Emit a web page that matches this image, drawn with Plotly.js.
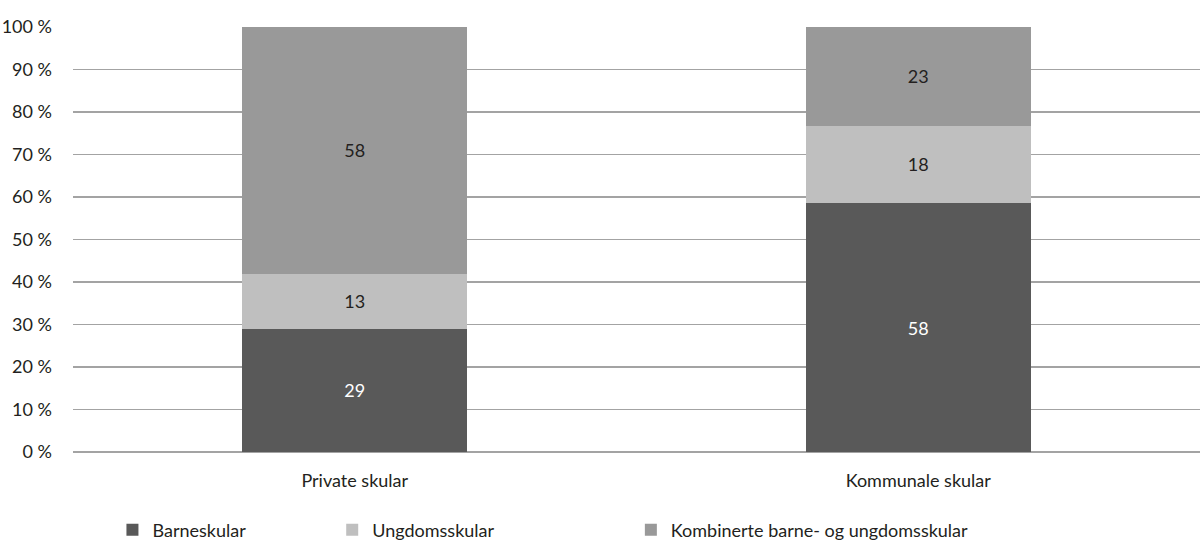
<!DOCTYPE html>
<html>
<head>
<meta charset="utf-8">
<script src="https://cdn.plot.ly/plotly-3.0.1.min.js"></script>
<style>
  html, body { margin: 0; padding: 0; background: #fff; }
  #chart { width: 1200px; height: 558px; }
</style>
</head>
<body>
<div id="chart"></div>
<script>
// skuletypar
const categories = ["Private skular", "Kommunale skular"];
const barneskular = [29, 58];
const ungdomsskular = [13, 18];
const kombinerte = [58, 23];

const seriesNames = ["Barneskular", "Ungdomsskular", "Kombinerte barne- og ungdomsskular"];
const colors = ["#595959", "#bfbfbf", "#999999"];
const textColors = ["#ffffff", "#231f20", "#231f20"];
const legendIds = ["legend", "legend2", "legend3"];
const legendX = [0.035, 0.23, 0.495];

const font = "Lato, 'Open Sans', sans-serif";

const traces = [barneskular, ungdomsskular, kombinerte].map((vals, i) => ({
  type: "bar",
  name: seriesNames[i],
  legend: legendIds[i],
  showlegend: true,
  x: categories,
  y: vals,
  text: vals.map(String),
  texttemplate: "%{text}",
  textposition: "inside",
  insidetextanchor: "middle",
  textfont: { family: font, size: 18, color: textColors[i] },
  marker: { color: colors[i], line: { width: 0 } },
  hoverinfo: "skip",
}));

const layout = {
  width: 1200,
  height: 558,
  margin: { l: 73, r: 0, t: 27, b: 106 },
  showlegend: true,
  barmode: "stack",
  barnorm: "percent",
  bargap: 0.6,
  paper_bgcolor: "#fff",
  plot_bgcolor: "#fff",
  font: { family: font, size: 18, color: "#231f20" },
  xaxis: {
    showgrid: false,
    showline: false,
    ticks: "",
    ticklabelstandoff: 16,
    tickfont: { family: font, size: 18, color: "#231f20" },
  },
  yaxis: {
    range: [0, 100],
    dtick: 10,
    ticksuffix: " %",
    showgrid: true,
    gridcolor: "#a3a3a3",
    gridwidth: 1.6,
    zeroline: true,
    zerolinecolor: "#a3a3a3",
    zerolinewidth: 1.6,
    showline: false,
    ticks: "",
    ticklabelstandoff: 20,
    tickfont: { family: font, size: 18, color: "#231f20" },
  },
};

legendIds.forEach((id, i) => {
  layout[id] = {
    orientation: "h",
    x: legendX[i],
    xanchor: "left",
    y: -0.1835,
    yanchor: "middle",
    font: { family: font, size: 18, color: "#231f20" },
    itemclick: false,
  };
});

Plotly.newPlot("chart", traces, layout, { displayModeBar: false, staticPlot: true });
</script>
</body>
</html>
